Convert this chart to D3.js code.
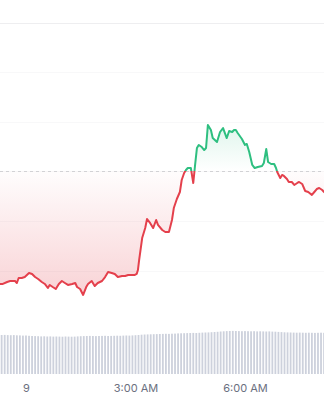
<!DOCTYPE html>
<html>
<head>
<meta charset="utf-8">
<script src="https://cdn.jsdelivr.net/npm/d3@7"></script>
<style>
  html, body { margin: 0; padding: 0; background: #fff; }
  svg { display: block; }
</style>
</head>
<body>
<div id="price-chart"></div>
<script>
// minutes after midnight of the 9th
const priceMinutes = [-43, -38, -31, -26, -18, -15, -12, -7, -2, 5, 10, 15, 20, 26, 31, 36, 39, 44, 49, 54,
  59, 64, 69, 76, 81, 84, 89, 94, 99, 102, 108, 113, 118, 125, 130, 135, 141, 146, 151, 158,
  163, 168, 174, 179, 182, 184, 186, 191, 196, 199, 204, 209, 214, 217, 224, 229, 235, 240, 243, 248,
  253, 256, 260, 263, 266, 271, 275, 278, 281, 284, 289, 293, 296, 299, 304, 307, 314, 319, 324, 330,
  334, 339, 342, 345, 348, 355, 360, 363, 367, 372, 376, 381, 388, 391, 395, 398, 403, 408, 411, 413,
  418, 421, 424, 429, 432, 437, 441, 446, 449, 454, 459, 464, 470, 474, 478, 482, 487, 490, 495];
const prices = [2.2364, 2.2364, 2.2384, 2.2394, 2.2394, 2.2374, 2.2424, 2.2424, 2.2434, 2.2475,
  2.2465, 2.2434, 2.2414, 2.2384, 2.2364, 2.2323, 2.2354, 2.2333, 2.2313, 2.2364,
  2.2394, 2.2374, 2.2354, 2.2364, 2.2374, 2.2333, 2.2313, 2.2253, 2.2333, 2.2364,
  2.2394, 2.2343, 2.2374, 2.2394, 2.2434, 2.2485, 2.2475, 2.2465, 2.2434, 2.2444,
  2.2444, 2.2455, 2.2455, 2.2455, 2.2465, 2.2505, 2.2606, 2.2828, 2.2929, 2.3020,
  2.2980, 2.2929, 2.3010, 2.2960, 2.2909, 2.2889, 2.2889, 2.3010, 2.3131, 2.3222,
  2.3293, 2.3414, 2.3485, 2.3515, 2.3535, 2.3535, 2.3384, 2.3566, 2.3737, 2.3768,
  2.3747, 2.3717, 2.3737, 2.3970, 2.3919, 2.3838, 2.3798, 2.3899, 2.3939, 2.3838,
  2.3909, 2.3899, 2.3919, 2.3919, 2.3889, 2.3828, 2.3768, 2.3778, 2.3697, 2.3566,
  2.3535, 2.3545, 2.3556, 2.3586, 2.3727, 2.3596, 2.3576, 2.3576, 2.3535, 2.3495,
  2.3434, 2.3465, 2.3455, 2.3424, 2.3394, 2.3394, 2.3364, 2.3384, 2.3394, 2.3374,
  2.3303, 2.3293, 2.3263, 2.3293, 2.3323, 2.3333, 2.3313, 2.3293, 2.3273];
const openPrice = 2.3505;

// 24h volume (millions), one bar every 5 minutes starting at volumeStart
const volumeStart = -45;
const volumes = [39.2, 39.0, 39.1, 38.9, 38.8, 38.9, 38.7, 38.6, 38.4, 38.5,
  38.2, 38.0, 37.9, 37.8, 37.6, 37.7, 37.5, 37.6, 37.4, 37.5,
  37.4, 37.3, 37.5, 37.4, 37.3, 37.4, 37.6, 37.8, 37.9, 38.0,
  38.1, 38.0, 37.9, 38.0, 38.1, 38.2, 38.0, 38.1, 38.2, 38.3,
  38.2, 38.4, 38.5, 38.4, 38.6, 38.8, 39.0, 39.3, 39.5, 39.6,
  39.7, 39.8, 39.9, 40.0, 40.1, 40.2, 40.1, 40.3, 40.4, 40.6,
  40.7, 40.8, 40.9, 41.0, 41.1, 41.0, 41.2, 41.4, 41.5, 41.6,
  41.8, 42.0, 42.2, 42.5, 42.7, 42.9, 43.0, 43.1, 43.0, 42.9,
  42.8, 42.9, 42.8, 42.7, 42.8, 42.6, 42.7, 42.6, 42.5, 42.6,
  42.4, 42.3, 42.1, 41.9, 41.7, 41.6, 41.5, 41.4, 41.3, 41.4,
  41.3, 41.2, 41.3, 41.2, 41.1, 41.2, 41.3, 41.2];

const priceTicks = [2.25, 2.30, 2.35, 2.40, 2.45, 2.50];
const timeTicks = [0, 180, 360];
const timeLabels = ["9", "3:00 AM", "6:00 AM"];

const width = 324, height = 400;
const green = "#2ebf80", red = "#e4404c";

const day = Date.UTC(2024, 0, 9);
const toDate = m => new Date(day + m * 60000);

const priceData = priceMinutes.map((m, i) => ({date: toDate(m), price: prices[i]}));
const volumeData = volumes.map((v, i) => ({date: toDate(volumeStart + i * 5), volume: v}));

const svg = d3.select("#price-chart")
  .append("svg")
    .attr("width", width)
    .attr("height", height);

// the visible window of the chart
const x = d3.scaleUtc()
  .domain([toDate(-42.7), toDate(489.9)])
  .range([0, width]);

const y = d3.scaleLinear()
  .domain([2.25, 2.50])
  .range([270.5, 23]);

const yVol = d3.scaleLinear()
  .domain([0, 50])
  .range([374, 324]);

const baseY = y(openPrice);

// gridlines (very faint, the top one a bit stronger)
svg.append("g")
  .selectAll("line")
  .data(priceTicks)
  .join("line")
    .attr("x1", 0)
    .attr("x2", width)
    .attr("y1", d => Math.round(y(d)) + 0.5)
    .attr("y2", d => Math.round(y(d)) + 0.5)
    .attr("stroke", (d, i) => i === priceTicks.length - 1 ? "#eeeef0" : "#f8f8f9");

// gradients + clips for above / below the opening price
const defs = svg.append("defs");

const gUp = defs.append("linearGradient")
  .attr("id", "grad-up")
  .attr("gradientUnits", "userSpaceOnUse")
  .attr("x1", 0).attr("x2", 0)
  .attr("y1", y(d3.max(prices))).attr("y2", baseY);
gUp.append("stop").attr("offset", 0).attr("stop-color", green).attr("stop-opacity", 0.15);
gUp.append("stop").attr("offset", 1).attr("stop-color", green).attr("stop-opacity", 0);

const gDown = defs.append("linearGradient")
  .attr("id", "grad-down")
  .attr("gradientUnits", "userSpaceOnUse")
  .attr("x1", 0).attr("x2", 0)
  .attr("y1", baseY).attr("y2", y(d3.min(prices)));
gDown.append("stop").attr("offset", 0).attr("stop-color", red).attr("stop-opacity", 0.01);
gDown.append("stop").attr("offset", 1).attr("stop-color", red).attr("stop-opacity", 0.23);

defs.append("clipPath").attr("id", "clip-up")
  .append("rect").attr("x", 0).attr("y", 0).attr("width", width).attr("height", baseY);
defs.append("clipPath").attr("id", "clip-down")
  .append("rect").attr("x", 0).attr("y", baseY).attr("width", width).attr("height", height - baseY);

const area = d3.area()
  .x(d => x(d.date))
  .y0(baseY)
  .y1(d => y(d.price));

const line = d3.line()
  .x(d => x(d.date))
  .y(d => y(d.price));

svg.append("path")
  .datum(priceData)
  .attr("clip-path", "url(#clip-up)")
  .attr("fill", "url(#grad-up)")
  .attr("d", area);

svg.append("path")
  .datum(priceData)
  .attr("clip-path", "url(#clip-down)")
  .attr("fill", "url(#grad-down)")
  .attr("d", area);

// opening price reference line
svg.append("line")
  .attr("x1", 0)
  .attr("x2", width)
  .attr("y1", Math.round(baseY) + 0.5)
  .attr("y2", Math.round(baseY) + 0.5)
  .attr("stroke", "#d2d2d5")
  .attr("stroke-dasharray", "3,3");

svg.append("path")
  .datum(priceData)
  .attr("clip-path", "url(#clip-up)")
  .attr("fill", "none")
  .attr("stroke", green)
  .attr("stroke-width", 2)
  .attr("stroke-linejoin", "round")
  .attr("d", line);

svg.append("path")
  .datum(priceData)
  .attr("clip-path", "url(#clip-down)")
  .attr("fill", "none")
  .attr("stroke", red)
  .attr("stroke-width", 2)
  .attr("stroke-linejoin", "round")
  .attr("d", line);

// volume bars
svg.append("g")
  .selectAll("rect")
  .data(volumeData)
  .join("rect")
    .attr("x", d => x(d.date) - 0.9)
    .attr("y", d => yVol(d.volume))
    .attr("width", 1.8)
    .attr("height", d => yVol(0) - yVol(d.volume))
    .attr("fill", "#cdd1dc");

// time axis
svg.append("g")
  .attr("transform", "translate(0,376)")
  .call(d3.axisBottom(x)
    .tickValues(timeTicks.map(toDate))
    .tickFormat((d, i) => timeLabels[i])
    .tickSize(0)
    .tickPadding(8))
  .call(g => g.select(".domain").remove())
  .call(g => g.selectAll("text")
    .attr("fill", "#6b7080")
    .style("font-family", "Inter, 'Noto Sans', sans-serif")
    .style("font-size", "11px"));
</script>
</body>
</html>
